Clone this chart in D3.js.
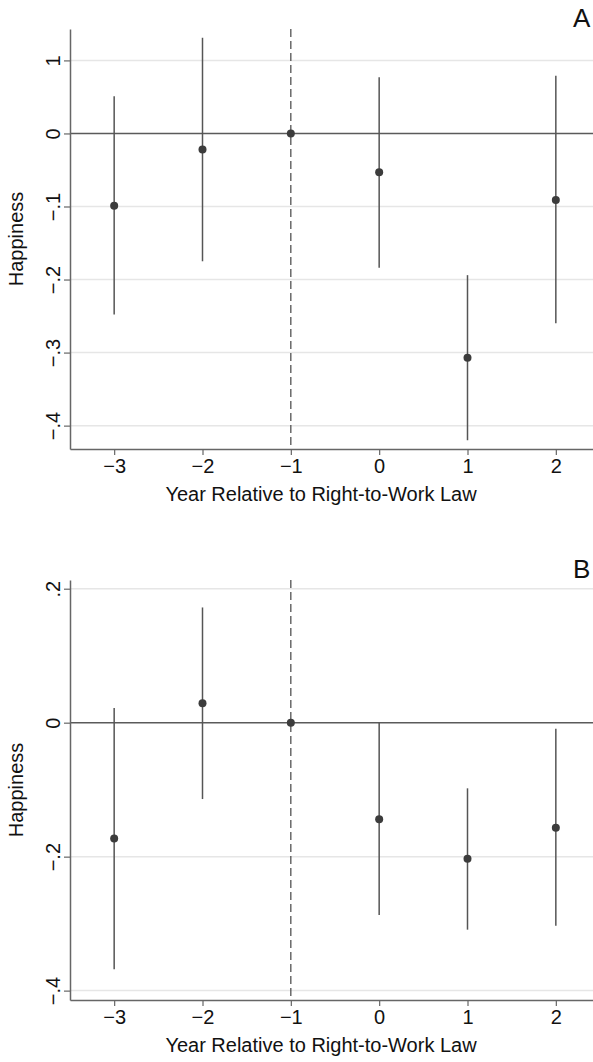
<!DOCTYPE html>
<html>
<head>
<meta charset="utf-8">
<script src="https://cdn.jsdelivr.net/npm/d3@7"></script>
<style>
  body { margin: 0; background: #fff; }
  svg { display: block; font-family: "Liberation Sans", Arial, sans-serif; }
</style>
</head>
<body>
<svg id="chart"></svg>
<script>
// event-time years
const years = [-3, -2, -1, 0, 1, 2];
const xticklabels = ["−3", "−2", "−1", "0", "1", "2"];

// panel A
const estA = [-0.099, -0.022, 0, -0.053, -0.307, -0.091];
const lowA = [-0.248, -0.175, 0, -0.184, -0.420, -0.260];
const highA = [0.051, 0.131, 0, 0.077, -0.194, 0.079];
const yticksA = [0.1, 0, -0.1, -0.2, -0.3, -0.4];
const yticklabelsA = ["1", "0", "−.1", "−.2", "−.3", "−.4"];

// panel B
const estB = [-0.173, 0.029, 0, -0.144, -0.203, -0.157];
const lowB = [-0.368, -0.114, 0, -0.287, -0.309, -0.303];
const highB = [0.022, 0.172, 0, 0.000, -0.098, -0.009];
const yticksB = [0.2, 0, -0.2, -0.4];
const yticklabelsB = [".2", "0", "−.2", "−.4"];

class CoefPlot {
    constructor (config, data) {
        this.config = {
            parent: config.parent,
            top: config.top,
            left: config.left || 70,
            width: config.width || 530,
            height: config.height || 420,
            ydomain: config.ydomain,
            yticks: config.yticks,
            yticklabels: config.yticklabels,
            label: config.label || ''
        };
        this.data = data;
        this.init();
    }

    init() {
        let self = this;
        const c = self.config;

        self.chart = c.parent.append('g')
            .attr('transform', `translate(${c.left}, ${c.top})`);

        self.xscale = d3.scaleLinear()
            .domain([-3.5, 2.5])
            .range([0, c.width]);

        self.yscale = d3.scaleLinear()
            .domain(c.ydomain)
            .range([c.height, 0]);
    }

    render() {
        let self = this;
        const c = self.config;

        // gridlines
        self.chart.selectAll('.grid')
            .data(c.yticks.filter(d => d !== 0))
            .join('line')
            .attr('class', 'grid')
            .attr('x1', 0)
            .attr('x2', c.width)
            .attr('y1', d => self.yscale(d))
            .attr('y2', d => self.yscale(d))
            .attr('stroke', '#e6e6e6')
            .attr('stroke-width', 1.5);

        // zero line
        self.chart.append('line')
            .attr('x1', 0)
            .attr('x2', c.width)
            .attr('y1', self.yscale(0))
            .attr('y2', self.yscale(0))
            .attr('stroke', '#5a5a5a')
            .attr('stroke-width', 1.5);

        // reference year
        self.chart.append('line')
            .attr('x1', self.xscale(-1))
            .attr('x2', self.xscale(-1))
            .attr('y1', 0)
            .attr('y2', c.height)
            .attr('stroke', '#444')
            .attr('stroke-width', 1.2)
            .attr('stroke-dasharray', '8,4');

        // confidence intervals
        self.chart.selectAll('.ci')
            .data(self.data.filter(d => d.high !== d.low))
            .join('line')
            .attr('class', 'ci')
            .attr('x1', d => self.xscale(d.year))
            .attr('x2', d => self.xscale(d.year))
            .attr('y1', d => self.yscale(d.low))
            .attr('y2', d => self.yscale(d.high))
            .attr('stroke', '#555')
            .attr('stroke-width', 1.5);

        self.chart.selectAll('.dot')
            .data(self.data)
            .join('circle')
            .attr('class', 'dot')
            .attr('cx', d => self.xscale(d.year))
            .attr('cy', d => self.yscale(d.est))
            .attr('r', 4)
            .attr('fill', '#3c3c3c');

        // axes
        const xaxis = d3.axisBottom(self.xscale)
            .tickValues(years)
            .tickFormat((d, i) => xticklabels[i])
            .tickSize(6)
            .tickSizeOuter(0)
            .tickPadding(4);

        const yaxis = d3.axisLeft(self.yscale)
            .tickValues(c.yticks)
            .tickFormat((d, i) => c.yticklabels[i])
            .tickSize(6)
            .tickSizeOuter(0);

        const xg = self.chart.append('g')
            .attr('transform', `translate(0, ${c.height})`)
            .call(xaxis);
        xg.selectAll('text')
            .attr('font-size', '20px')
            .attr('fill', '#111');

        const yg = self.chart.append('g').call(yaxis);
        yg.selectAll('text')
            .attr('font-size', '20px')
            .attr('fill', '#111')
            .attr('text-anchor', 'middle')
            .attr('transform', 'rotate(-90)')
            .attr('x', 0)
            .attr('y', -10)
            .attr('dy', 0);

        [xg, yg].forEach(g => {
            g.select('.domain').attr('stroke', '#666').attr('stroke-width', 1.5);
            g.selectAll('.tick line').attr('stroke', '#666').attr('stroke-width', 1.2);
        });

        // axis titles
        self.chart.append('text')
            .attr('x', c.width / 2 - 14)
            .attr('y', c.height + 52)
            .attr('text-anchor', 'middle')
            .attr('font-size', '20px')
            .attr('fill', '#111')
            .text('Year Relative to Right-to-Work Law');

        self.chart.append('text')
            .attr('transform', 'rotate(-90)')
            .attr('x', -c.height / 2)
            .attr('y', -47)
            .attr('text-anchor', 'middle')
            .attr('font-size', '20px')
            .attr('fill', '#111')
            .text('Happiness');

        // panel letter
        self.chart.append('text')
            .attr('x', 503)
            .attr('y', -2)
            .attr('font-size', '26px')
            .attr('fill', '#111')
            .text(c.label);
    }
}

const svg = d3.select('#chart')
    .attr('width', 593)
    .attr('height', 1062);

const dataA = years.map((y, i) => ({year: y, est: estA[i], low: lowA[i], high: highA[i]}));
const dataB = years.map((y, i) => ({year: y, est: estB[i], low: lowB[i], high: highB[i]}));

const plotA = new CoefPlot({
    parent: svg, top: 29, ydomain: [-0.432, 0.143],
    yticks: yticksA, yticklabels: yticklabelsA, label: 'A'
}, dataA);
plotA.render();

const plotB = new CoefPlot({
    parent: svg, top: 580, ydomain: [-0.414, 0.213],
    yticks: yticksB, yticklabels: yticklabelsB, label: 'B'
}, dataB);
plotB.render();
</script>
</body>
</html>
